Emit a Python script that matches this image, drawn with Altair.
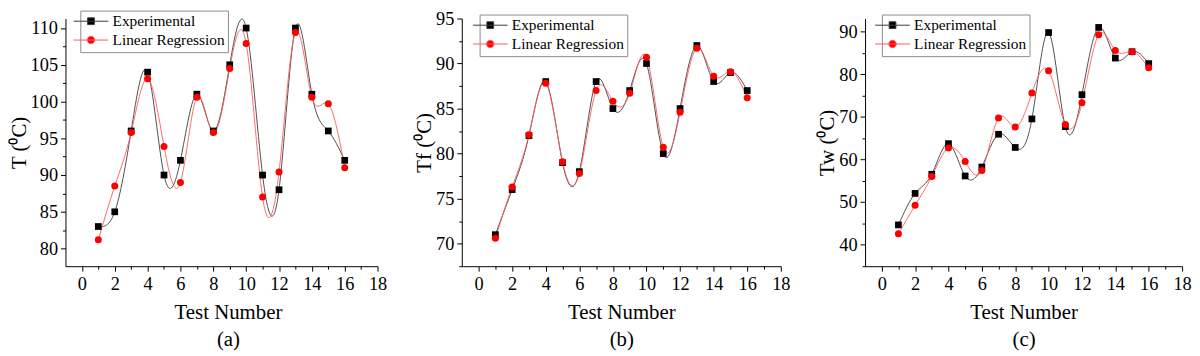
import altair as alt
import pandas as pd

FONT = "Liberation Serif"

test_no = list(range(1, 17))
series_names = ["Experimental", "Linear Regression"]

T_exp = [83, 85, 96, 104, 90, 92, 101, 96, 105, 110, 90, 88, 110, 101, 96, 92]
T_lr = [81.2, 88.5, 95.8, 103.1, 93.9, 89.0, 100.6, 95.8, 104.5, 107.9, 87.0, 90.4, 109.4, 100.6, 99.7, 91.0]
Tf_exp = [71, 76, 82, 88, 79, 78, 88, 85, 87, 90, 80, 85, 92, 88, 89, 87]
Tf_lr = [70.6, 76.3, 82.1, 87.8, 79.1, 77.8, 87.0, 85.8, 86.7, 90.7, 80.7, 84.6, 91.7, 88.6, 89.1, 86.2]
Tw_exp = [44.6, 52.0, 56.5, 63.7, 56.1, 58.2, 65.9, 62.8, 69.5, 89.8, 67.7, 75.2, 91.0, 83.8, 85.3, 82.5]
Tw_lr = [42.5, 49.2, 56.0, 62.7, 59.5, 57.4, 69.7, 67.6, 75.6, 80.8, 68.2, 73.3, 89.3, 85.6, 85.3, 81.5]

x_ticks = list(range(0, 19))
T_ticks = [77.5 + 2.5 * i for i in range(14)]
Tf_ticks = [67.5 + 2.5 * i for i in range(12)]
Tw_ticks = [35 + 5 * i for i in range(12)]

SQ_PATH = "M-3.5,0H3.5M-0.68,-0.68H0.68V0.68H-0.68Z"
CI_PATH = "M-3.5,0H3.5M0.75,0A0.75,0.75,0,1,1,-0.75,0A0.75,0.75,0,1,1,0.75,0Z"


def panel(exp, lr, ytitle, sub, ydom, yticks, major, width, legx, legy, titlex):
    df = pd.DataFrame({
        "n": test_no + test_no,
        "v": exp + lr,
        "s": [series_names[0]] * 16 + [series_names[1]] * 16,
    })
    base = alt.Chart(df)
    x = alt.X(
        "n:Q",
        scale=alt.Scale(domain=[-1, 18], nice=False, zero=False),
        axis=alt.Axis(
            values=x_ticks,
            labelExpr="datum.value % 2 == 0 ? datum.label : ''",
            tickSize={"condition": {"test": "datum.value % 2 == 0", "value": 5}, "value": 3},
            title=["Test Number", sub],
            titleLineHeight=28,
            titlePadding=8,
            titleX=titlex,
            titleAlign="center",
            labelPadding=4,
            labelFlush=False,
            labelOverlap=False,
        ),
    )
    y = alt.Y(
        "v:Q",
        scale=alt.Scale(domain=ydom, nice=False, zero=False),
        axis=alt.Axis(
            values=yticks,
            labelExpr=f"datum.value % {major} == 0 ? datum.label : ''",
            tickSize={"condition": {"test": f"datum.value % {major} == 0", "value": 5}, "value": 3},
            title=ytitle,
            titlePadding=1,
            labelPadding=3,
            labelFlush=False,
            labelOverlap=False,
        ),
    )
    exp_f = base.transform_filter(alt.datum.s == series_names[0])
    lr_f = base.transform_filter(alt.datum.s == series_names[1])
    exp_line = exp_f.mark_line(interpolate="natural", color="#3c3c3c", strokeWidth=0.9).encode(x=x, y=y)
    lr_line = lr_f.mark_line(interpolate="natural", color="#ff5a5a", strokeWidth=0.9).encode(x=x, y=y)
    exp_pts = exp_f.mark_point(shape="square", filled=True, color="black", size=46, opacity=1).encode(x=x, y=y)
    lr_pts = lr_f.mark_point(shape="circle", filled=True, color="#ff0000", size=50, opacity=1).encode(x=x, y=y)
    leg = alt.Legend(
        title=None, orient="none", legendX=legx, legendY=legy,
        strokeColor="#8c8c8c", fillColor="white", padding=3,
        labelFont=FONT, labelFontSize=15.5, labelColor="black", labelOffset=14,
        symbolSize=100, symbolStrokeWidth=1, symbolOpacity=1, rowPadding=2,
    )
    legend_layer = base.mark_point(opacity=0, filled=True).encode(
        x=x, y=y,
        fill=alt.Fill("s:N", scale=alt.Scale(domain=series_names, range=["black", "#ff0000"]), legend=leg),
        stroke=alt.Stroke("s:N", scale=alt.Scale(domain=series_names, range=["#3c3c3c", "#ff5a5a"]), legend=leg),
        shape=alt.Shape("s:N", scale=alt.Scale(domain=series_names, range=[SQ_PATH, CI_PATH]), legend=leg),
    )
    return alt.layer(exp_line, lr_line, exp_pts, lr_pts, legend_layer).properties(width=width, height=250)


a = panel(T_exp, T_lr, "T (⁰C)", "(a)", [77.6, 111.3], T_ticks, 5, 315, 15, -8, 164)
b = panel(Tf_exp, Tf_lr, "Tf (⁰C)", "(b)", [67.5, 95.0], Tf_ticks, 5, 322, 18, -4, 161)
c = panel(Tw_exp, Tw_lr, "Tw (⁰C)", "(c)", [34.9, 93.1], Tw_ticks, 10, 320, 17, -4, 160)

chart = alt.hconcat(a, b, c, spacing=85, bounds="flush").resolve_scale(
    fill="independent", stroke="independent", shape="independent"
).resolve_legend(
    fill="independent", stroke="independent", shape="independent"
).properties(padding=0).configure_view(
    stroke=None
).configure_axis(
    grid=False,
    domainColor="black",
    domainWidth=1,
    tickColor="black",
    tickWidth=1,
    labelFont=FONT,
    labelFontSize=18.5,
    labelColor="black",
    titleFont=FONT,
    titleFontSize=21,
    titleFontWeight="normal",
    titleColor="black",
).configure_legend(
    labelFont=FONT,
    labelFontSize=15.5,
)

chart.save("out.html", embed_options={"renderer": "svg", "actions": False})
